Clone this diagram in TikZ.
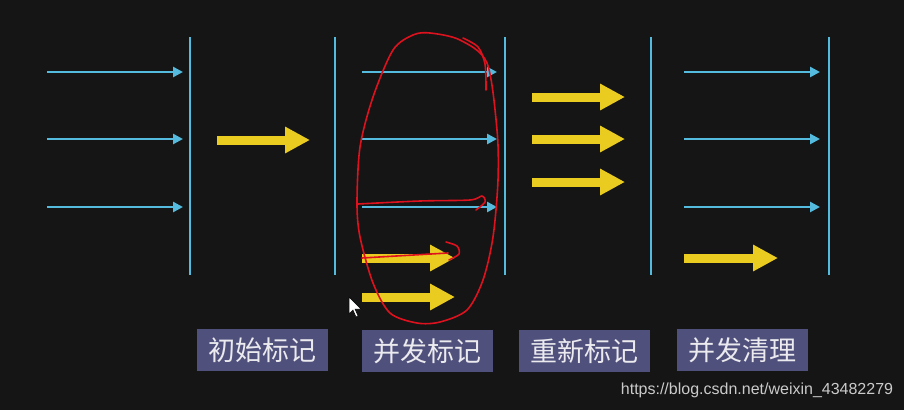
\documentclass[tikz,border=0pt]{standalone}
\usepackage{fontspec}
\newfontfamily\cjk{Noto Sans CJK SC}
\setsansfont{Liberation Sans}
\usetikzlibrary{arrows.meta}
\definecolor{board}{RGB}{21,21,21}
\definecolor{chalkblue}{RGB}{84,186,222}
\definecolor{chalkyellow}{RGB}{234,203,32}
\definecolor{tagbg}{RGB}{80,80,124}
\definecolor{pen}{RGB}{222,18,30}

\begin{document}
\begin{tikzpicture}[x=1pt,y=-1pt,
every node/.style={inner sep=0pt},
wall/.style={draw=chalkblue,line width=2.6pt},
ref/.style={draw=chalkblue,line width=2.8pt,-{Triangle[length=10pt,width=10pt]}},
obj/.style={draw=chalkyellow,line width=9pt,-{Triangle[length=25pt,width=25pt]}},
phase/.style={fill=tagbg,text=white!88!tagbg,minimum width=131pt,minimum height=42pt,font=\cjk\fontsize{27}{27}\selectfont},
scribble/.style={draw=pen,line width=1.6pt,line cap=round,line join=round},
]
\fill[board] (0,0) rectangle (904,410);
\useasboundingbox (0,0) rectangle (904,410);

% walls
\coordinate (w1t) at (190,37); \coordinate (w1b) at (190,275);
\coordinate (w2t) at (335,37); \coordinate (w2b) at (335,275);
\coordinate (w3t) at (505,37); \coordinate (w3b) at (505,275);
\coordinate (w4t) at (651,37); \coordinate (w4b) at (651,275);
\coordinate (w5t) at (829,37); \coordinate (w5b) at (829,275);
\draw[wall] (w1t) -- (w1b);
\draw[wall] (w2t) -- (w2b);
\draw[wall] (w3t) -- (w3b);
\draw[wall] (w4t) -- (w4b);
\draw[wall] (w5t) -- (w5b);

% initial mark
\coordinate (s11) at (47,72);  \coordinate (e11) at (183,72);
\coordinate (s12) at (47,139); \coordinate (e12) at (183,139);
\coordinate (s13) at (47,207); \coordinate (e13) at (183,207);
\draw[ref] (s11) -- (e11);
\draw[ref] (s12) -- (e12);
\draw[ref] (s13) -- (e13);
\coordinate (y1) at (217,140); \coordinate (z1) at (310,140);
\draw[obj] (y1) -- (z1);

% concurrent mark
\coordinate (s21) at (362,72);  \coordinate (e21) at (497,72);
\coordinate (s22) at (362,139); \coordinate (e22) at (497,139);
\coordinate (s23) at (362,207); \coordinate (e23) at (497,207);
\draw[ref] (s21) -- (e21);
\draw[ref] (s22) -- (e22);
\draw[ref] (s23) -- (e23);
\coordinate (y21) at (362,258); \coordinate (z21) at (455,258);
\coordinate (y22) at (362,297); \coordinate (z22) at (455,297);
\draw[obj] (y21) -- (z21);
\draw[obj] (y22) -- (z22);

% remark
\coordinate (y31) at (532,97);  \coordinate (z31) at (625,97);
\coordinate (y32) at (532,139); \coordinate (z32) at (625,139);
\coordinate (y33) at (532,182); \coordinate (z33) at (625,182);
\draw[obj] (y31) -- (z31);
\draw[obj] (y32) -- (z32);
\draw[obj] (y33) -- (z33);

% concurrent sweep
\coordinate (s41) at (684,72);  \coordinate (e41) at (820,72);
\coordinate (s42) at (684,139); \coordinate (e42) at (820,139);
\coordinate (s43) at (684,207); \coordinate (e43) at (820,207);
\draw[ref] (s41) -- (e41);
\draw[ref] (s42) -- (e42);
\draw[ref] (s43) -- (e43);
\coordinate (y4) at (684,258); \coordinate (z4) at (778,258);
\draw[obj] (y4) -- (z4);

% red pen marks
\draw[scribble] plot[smooth cycle] coordinates {(430,33) (460,40) (487,63) (497,130) (498,180) (493,237) (483,280) (467,310) (440,322) (417,323) (390,313) (373,283) (360,237) (357,203) (360,147) (373,97) (393,50) (413,35)};
\draw[scribble] plot[smooth] coordinates {(463,38) (478,47) (485,64) (486,90)};
\draw[scribble] plot[smooth] coordinates {(358,204) (420,201) (470,200) (482,196) (485,202) (476,210)};
\draw[scribble] (y21) -- (448,253);
\draw[scribble] plot[smooth] coordinates {(446,242) (457,246) (459,254) (449,260)};

% cursor
\filldraw[fill=white,draw=black,line width=0.5pt] (349,297) -- (349,314) -- (353,310) -- (356,317) -- (358,316) -- (355,309) -- (361,309) -- cycle;

% phase labels
\node[phase] (p1) at (262,350) {初始标记};
\node[phase] (p2) at (427,351) {并发标记};
\node[phase] (p3) at (584,351) {重新标记};
\node[phase] (p4) at (742,350) {并发清理};

\node[font=\sffamily\fontsize{16}{16}\selectfont,text=white!78!board] (url) at (757,390) {https://blog.csdn.net/weixin\_43482279};
\end{tikzpicture}
\end{document}
